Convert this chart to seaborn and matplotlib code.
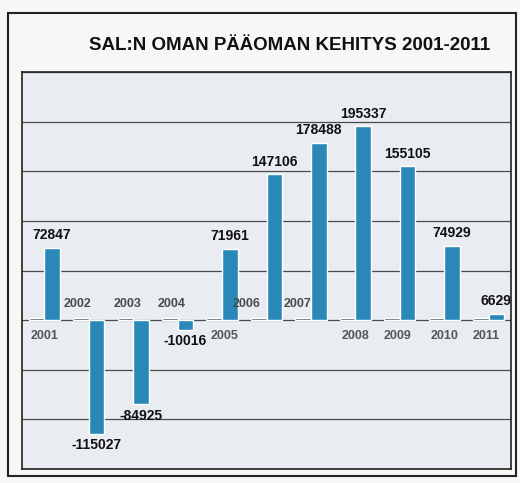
import pandas as pd
import seaborn as sns
import matplotlib.pyplot as plt
from matplotlib.patches import Rectangle

# Data: year series (drawn as tiny bars, as in the original) and equity
years = [2001, 2002, 2003, 2004, 2005, 2006, 2007, 2008, 2009, 2010, 2011]
equity = [72847, -115027, -84925, -10016, 71961, 147106, 178488, 195337,
          155105, 74929, 6629]
series_names = ["Vuosi", "Oma pääoma"]

data = pd.DataFrame({
    "vuosi": [str(y) for y in years] * 2,
    "sarja": [series_names[0]] * len(years) + [series_names[1]] * len(years),
    "arvo": years + equity,
})

sns.set_theme(style="white")
plt.rcParams["font.family"] = ["Liberation Sans", "DejaVu Sans"]

fig = plt.figure(figsize=(5.2, 4.83), dpi=100, facecolor="#f7f7f5")
ax = fig.add_axes([22 / 520, 1 - 469 / 483, (511 - 22) / 520, (469 - 72) / 483])

sns.barplot(data=data, x="vuosi", y="arvo", hue="sarja", dodge=True,
            palette=["#2f3f38", "#2a88b8"], width=0.7, saturation=1,
            legend=False, ax=ax)

ax.set_facecolor("#e9edf2")
ax.set_ylim(-150000, 250000)
ax.set_xlim(-0.5, len(years) - 0.5)
ax.set_yticks(range(-150000, 250001, 50000))
ax.yaxis.grid(True, color="#4a4a4a", linewidth=0.9)
ax.set_axisbelow(True)
ax.set_xticks([])
ax.set_yticklabels([])
ax.tick_params(left=False, bottom=False)
ax.set_xlabel("")
ax.set_ylabel("")
for s in ax.spines.values():
    s.set_color("#222222")
    s.set_linewidth(1.2)

# value labels of the equity series
for i, v in enumerate(equity):
    x = i + 0.17
    if v >= 0:
        ax.annotate(str(v), (x, v), xytext=(0, 4), textcoords="offset points",
                    ha="center", va="bottom", fontsize=10, fontweight="bold",
                    color="#111111")
    else:
        ax.annotate(str(v), (x, v), xytext=(0, -3), textcoords="offset points",
                    ha="center", va="top", fontsize=10, fontweight="bold",
                    color="#111111")

# year labels (placed above or below the zero line as in the scan)
year_above = [False, True, True, True, False, True, True, False, False, False, False]
year_dx = [0, -8, -4, -4, 2, -14, -10, 0, -2, 0, -2]
for i, y in enumerate(years):
    if year_above[i]:
        ax.annotate(str(y), (i, 0), xytext=(year_dx[i], 7), textcoords="offset points",
                    ha="center", va="bottom", fontsize=9, fontweight="bold",
                    color="#4a4a4a", zorder=1)
    else:
        ax.annotate(str(y), (i, 0), xytext=(year_dx[i], -7), textcoords="offset points",
                    ha="center", va="top", fontsize=9, fontweight="bold",
                    color="#555555")

fig.text(290 / 520, 1 - 46 / 483, "SAL:N OMAN PÄÄOMAN KEHITYS 2001-2011",
         ha="center", va="center", fontsize=13.5, fontweight="bold", color="#111111")

# outer frame
fig.patches.append(Rectangle((8 / 520, 1 - 476 / 483), (516 - 8) / 520, (476 - 13) / 483,
                             transform=fig.transFigure, fill=False,
                             edgecolor="#222222", linewidth=1.5))

fig.savefig("out.png", dpi=100, facecolor=fig.get_facecolor())
